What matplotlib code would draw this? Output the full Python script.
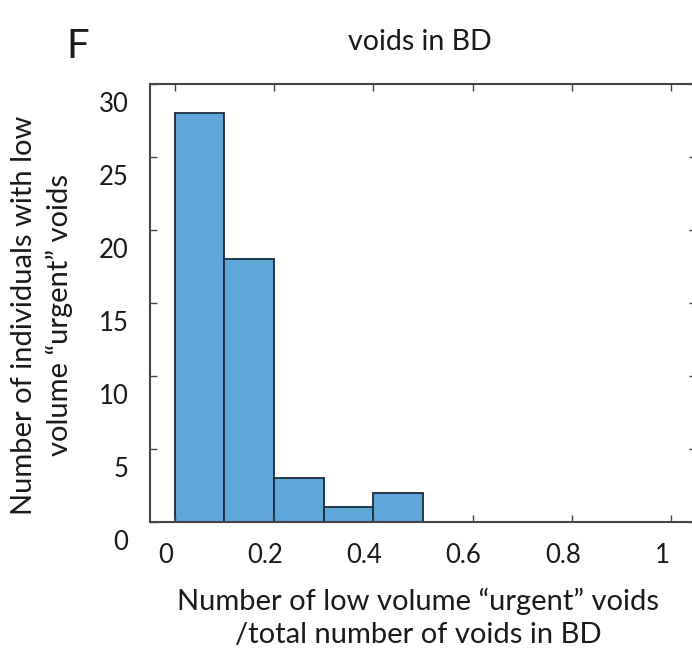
import numpy as np
import matplotlib
matplotlib.use("Agg")
import matplotlib.pyplot as plt
import matplotlib.transforms as mtransforms

plt.rcParams['font.family'] = ['Lato', 'DejaVu Sans']

# histogram data
bin_edges = [0.0, 0.1, 0.2, 0.3, 0.4, 0.5]
counts = [28, 18, 3, 1, 2]
xticks = [0, 0.2, 0.4, 0.6, 0.8, 1]
xticklabels = ['0', '0.2', '0.4', '0.6', '0.8', '1']
yticks = [0, 5, 10, 15, 20, 25, 30]

fig = plt.figure(figsize=(6.92, 6.51), dpi=100)
ax = fig.add_axes([150/692, (651-522)/651, (696-150)/692, (522-84)/651])

widths = np.diff(bin_edges)
ax.bar(bin_edges[:-1], counts, width=widths, align='edge',
       color='#5fa6d9', edgecolor='#1a2a3a', lw=1.3)

ax.set_xlim(-0.05, 1.05)
ax.set_ylim(0, 30)
ax.set_xticks(xticks)
ax.set_xticklabels(xticklabels)
ax.set_yticks(yticks)
ax.tick_params(direction='in', length=5, width=1, color='#444444',
               top=True, right=True, labelsize=18.5, pad=14,
               labelcolor='#1a1a1a')
for s in ax.spines.values():
    s.set_color('#444444')
    s.set_linewidth(1.5)

# labels in the source sit a bit off their ticks
off_y = mtransforms.ScaledTranslation(-0.02, -0.18, fig.dpi_scale_trans)
for lab in ax.get_yticklabels():
    lab.set_transform(lab.get_transform() + off_y)
off_x = mtransforms.ScaledTranslation(-0.09, -0.02, fig.dpi_scale_trans)
for lab in ax.get_xticklabels():
    lab.set_transform(lab.get_transform() + off_x)

fig.text(418/692, 1 - 618/651,
         'Number of low volume \u201curgent\u201d voids\n/total number of voids in BD',
         ha='center', va='center', fontsize=21, linespacing=1.35, color='#1a1a1a')
fig.text(42/692, 1 - 315/651,
         'Number of individuals with low\nvolume \u201curgent\u201d voids',
         ha='center', va='center', rotation=90, fontsize=21, linespacing=1.35,
         color='#1a1a1a')
fig.text(420/692, 1 - 42/651, 'voids in BD', ha='center', va='center',
         fontsize=20.5, color='#1a1a1a')
fig.text(78/692, 1 - 46/651, 'F', ha='center', va='center', fontsize=29,
         color='#1a1a1a')

fig.savefig('out.png', dpi=100)
